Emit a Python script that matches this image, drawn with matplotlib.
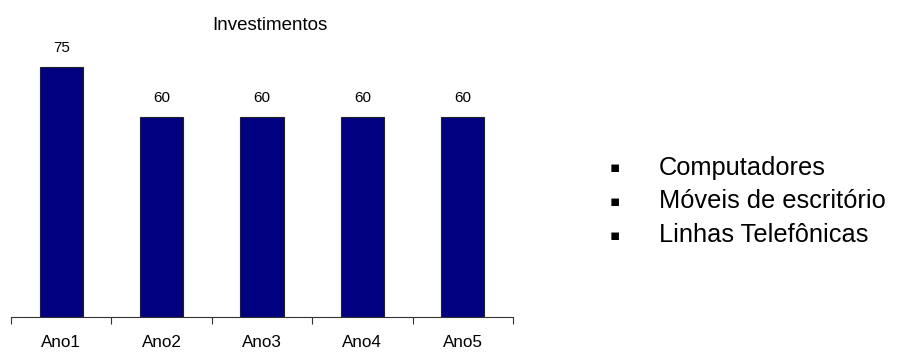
import numpy as np
import matplotlib.pyplot as plt

categories = ['Ano1', 'Ano2', 'Ano3', 'Ano4', 'Ano5']
values = [75, 60, 60, 60, 60]
legend_items = ['Computadores', 'Móveis de escritório', 'Linhas Telefônicas']

plt.rcParams['font.family'] = ['Liberation Sans', 'DejaVu Sans']

W, H = 898, 352
fig = plt.figure(figsize=(W / 100, H / 100), dpi=100)
ax = fig.add_axes([11 / W, 35 / H, 502 / W, 300 / H])

x = np.arange(len(categories))
ax.bar(x, values, width=0.43, color='#000080', edgecolor='#222222', linewidth=0.8)
for xi, v in zip(x, values):
    ax.annotate(str(v), (xi, v), xytext=(0, 14), textcoords='offset points',
                ha='center', va='center', fontsize=11)

ax.set_xlim(-0.5, len(categories) - 0.5)
ax.set_ylim(0, 90)
ax.set_xticks(np.arange(-0.5, len(categories)))
ax.set_xticklabels([])
ax.tick_params(axis='x', which='major', direction='out', length=5, width=0.8, color='#333333')
ax.set_xticks(x, minor=True)
ax.set_xticklabels(categories, minor=True, fontsize=12.3)
ax.tick_params(axis='x', which='minor', length=0, pad=13)
ax.set_yticks([])
for s in ['top', 'right', 'left']:
    ax.spines[s].set_visible(False)
ax.spines['bottom'].set_color('#333333')
ax.spines['bottom'].set_linewidth(0.8)

fig.text(270 / W, 1 - 25 / H, 'Investimentos', ha='center', va='center', fontsize=13.5)

# "legend" on the right is just bulleted text
for i, label in enumerate(legend_items):
    y = 1 - (168 + 33.5 * i) / H
    fig.text(615 / W, y, '▪', ha='center', va='center', fontsize=11,
             family=['DejaVu Sans'])
    fig.text(659 / W, y, label, ha='left', va='center', fontsize=18.3)

fig.savefig('out.png', dpi=100)
